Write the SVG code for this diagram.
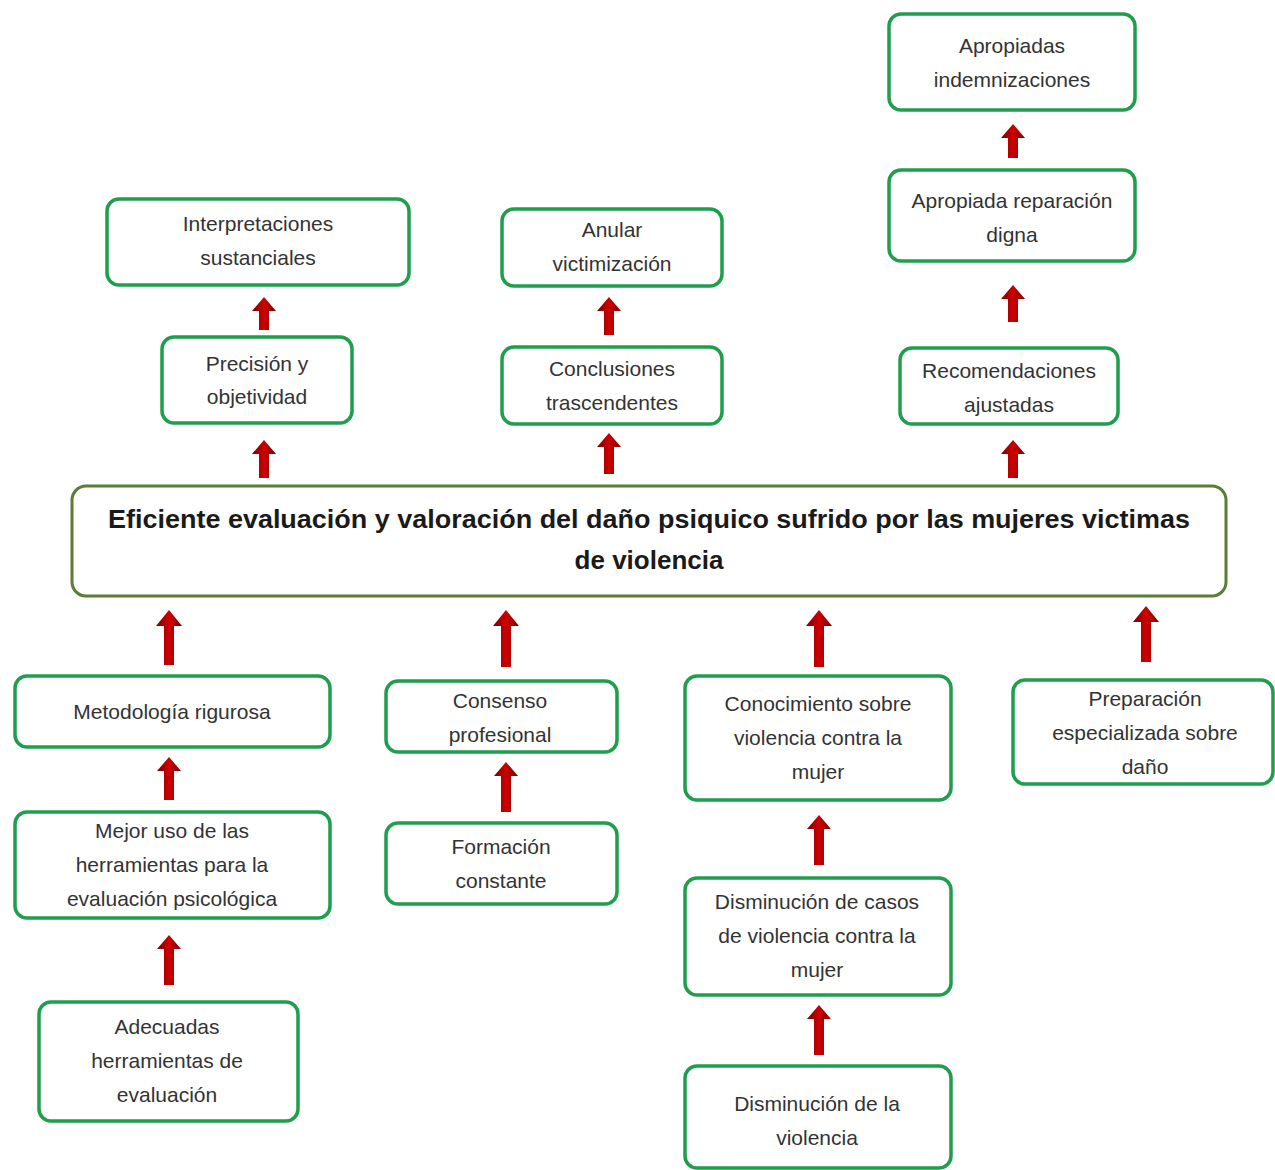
<svg xmlns="http://www.w3.org/2000/svg" width="1275" height="1170" viewBox="0 0 1275 1170">
<defs>
<linearGradient id="ag" x1="0" y1="0" x2="1" y2="0">
<stop offset="0" stop-color="#7a0000"/>
<stop offset="0.5" stop-color="#d00000"/>
<stop offset="1" stop-color="#7a0000"/>
</linearGradient>
<style>
.box{fill:#fff;stroke:#1f9e4e;stroke-width:3.5}
.main{fill:#fff;stroke:#5b7d34;stroke-width:3}
.t{font-family:"Liberation Sans",Arial,sans-serif;font-size:21px;fill:#333;text-anchor:middle}
.mt{font-family:"Liberation Sans",Arial,sans-serif;font-size:26px;font-weight:bold;fill:#1a1a1a;text-anchor:middle}
.arr{fill:url(#ag)}
</style>
</defs>
<rect width="1275" height="1170" fill="#fff"/>

<g id="connectors">
<path class="arr" d="M264,297 L276,311 L269,311 L269,330 L259,330 L259,311 L252,311 Z"/>
<path class="arr" d="M264,440 L276,454 L269,454 L269,478 L259,478 L259,454 L252,454 Z"/>
<path class="arr" d="M609,297 L621,311 L614,311 L614,335 L604,335 L604,311 L597,311 Z"/>
<path class="arr" d="M609,433 L621,447 L614,447 L614,474 L604,474 L604,447 L597,447 Z"/>
<path class="arr" d="M1013,124 L1025,138 L1018,138 L1018,158 L1008,158 L1008,138 L1001,138 Z"/>
<path class="arr" d="M1013,285 L1025,299 L1018,299 L1018,322 L1008,322 L1008,299 L1001,299 Z"/>
<path class="arr" d="M1013,440 L1025,454 L1018,454 L1018,478 L1008,478 L1008,454 L1001,454 Z"/>
<path class="arr" d="M169,610 L182,626 L174,626 L174,665 L164,665 L164,626 L156,626 Z"/>
<path class="arr" d="M169,757 L181,771 L174,771 L174,800 L164,800 L164,771 L157,771 Z"/>
<path class="arr" d="M169,935 L181,949 L174,949 L174,985 L164,985 L164,949 L157,949 Z"/>
<path class="arr" d="M506,610 L519,626 L511,626 L511,667 L501,667 L501,626 L493,626 Z"/>
<path class="arr" d="M506,762 L518,776 L511,776 L511,812 L501,812 L501,776 L494,776 Z"/>
<path class="arr" d="M819,610 L832,626 L824,626 L824,667 L814,667 L814,626 L806,626 Z"/>
<path class="arr" d="M819,815 L831,829 L824,829 L824,865 L814,865 L814,829 L807,829 Z"/>
<path class="arr" d="M819,1005 L831,1019 L824,1019 L824,1055 L814,1055 L814,1019 L807,1019 Z"/>
<path class="arr" d="M1146,606 L1159,622 L1151,622 L1151,662 L1141,662 L1141,622 L1133,622 Z"/>
</g>

<g id="n_interpretaciones">
<rect class="box" x="107" y="199" width="302" height="86" rx="12"/>
<text class="t" x="258" y="231">Interpretaciones</text>
<text class="t" x="258" y="265">sustanciales</text>
</g>
<g id="n_precision">
<rect class="box" x="162" y="337" width="190" height="86" rx="12"/>
<text class="t" x="257" y="371">Precisión y</text>
<text class="t" x="257" y="404">objetividad</text>
</g>
<g id="n_anular">
<rect class="box" x="502" y="209" width="220" height="77" rx="12"/>
<text class="t" x="612" y="237">Anular</text>
<text class="t" x="612" y="271">victimización</text>
</g>
<g id="n_conclusiones">
<rect class="box" x="502" y="347" width="220" height="77" rx="12"/>
<text class="t" x="612" y="376">Conclusiones</text>
<text class="t" x="612" y="410">trascendentes</text>
</g>
<g id="n_indemnizaciones">
<rect class="box" x="889" y="14" width="246" height="96" rx="12"/>
<text class="t" x="1012" y="53">Apropiadas</text>
<text class="t" x="1012" y="87">indemnizaciones</text>
</g>
<g id="n_reparacion">
<rect class="box" x="889" y="170" width="246" height="91" rx="12"/>
<text class="t" x="1012" y="208">Apropiada reparación</text>
<text class="t" x="1012" y="242">digna</text>
</g>
<g id="n_recomendaciones">
<rect class="box" x="900" y="348" width="218" height="76" rx="12"/>
<text class="t" x="1009" y="378">Recomendaciones</text>
<text class="t" x="1009" y="412">ajustadas</text>
</g>

<g id="n_main">
<rect class="main" x="72" y="486" width="1154" height="110" rx="14"/>
<text class="mt" x="649" y="528" textLength="1082" lengthAdjust="spacingAndGlyphs">Eficiente evaluación  y valoración del daño psiquico  sufrido por las mujeres victimas</text>
<text class="mt" x="649" y="569">de violencia</text>
</g>

<g id="n_metodologia">
<rect class="box" x="15" y="676" width="315" height="71" rx="12"/>
<text class="t" x="172" y="719">Metodología rigurosa</text>
</g>
<g id="n_mejor">
<rect class="box" x="15" y="812" width="315" height="106" rx="12"/>
<text class="t" x="172" y="838">Mejor uso de las</text>
<text class="t" x="172" y="872">herramientas para la</text>
<text class="t" x="172" y="906">evaluación psicológica</text>
</g>
<g id="n_adecuadas">
<rect class="box" x="39" y="1002" width="259" height="119" rx="12"/>
<text class="t" x="167" y="1034">Adecuadas</text>
<text class="t" x="167" y="1068">herramientas de</text>
<text class="t" x="167" y="1102">evaluación</text>
</g>
<g id="n_consenso">
<rect class="box" x="386" y="681" width="231" height="71" rx="12"/>
<text class="t" x="500" y="708">Consenso</text>
<text class="t" x="500" y="742">profesional</text>
</g>
<g id="n_formacion">
<rect class="box" x="386" y="823" width="231" height="81" rx="12"/>
<text class="t" x="501" y="854">Formación</text>
<text class="t" x="501" y="888">constante</text>
</g>
<g id="n_conocimiento">
<rect class="box" x="685" y="676" width="266" height="124" rx="12"/>
<text class="t" x="818" y="711">Conocimiento sobre</text>
<text class="t" x="818" y="745">violencia contra la</text>
<text class="t" x="818" y="779">mujer</text>
</g>
<g id="n_casos">
<rect class="box" x="685" y="878" width="266" height="117" rx="12"/>
<text class="t" x="817" y="909">Disminución de casos</text>
<text class="t" x="817" y="943">de violencia contra la</text>
<text class="t" x="817" y="977">mujer</text>
</g>
<g id="n_disminucion">
<rect class="box" x="685" y="1066" width="266" height="102" rx="12"/>
<text class="t" x="817" y="1111">Disminución de la</text>
<text class="t" x="817" y="1145">violencia</text>
</g>
<g id="n_preparacion">
<rect class="box" x="1013" y="680" width="260" height="104" rx="12"/>
<text class="t" x="1145" y="706">Preparación</text>
<text class="t" x="1145" y="740">especializada sobre</text>
<text class="t" x="1145" y="774">daño</text>
</g>
</svg>
